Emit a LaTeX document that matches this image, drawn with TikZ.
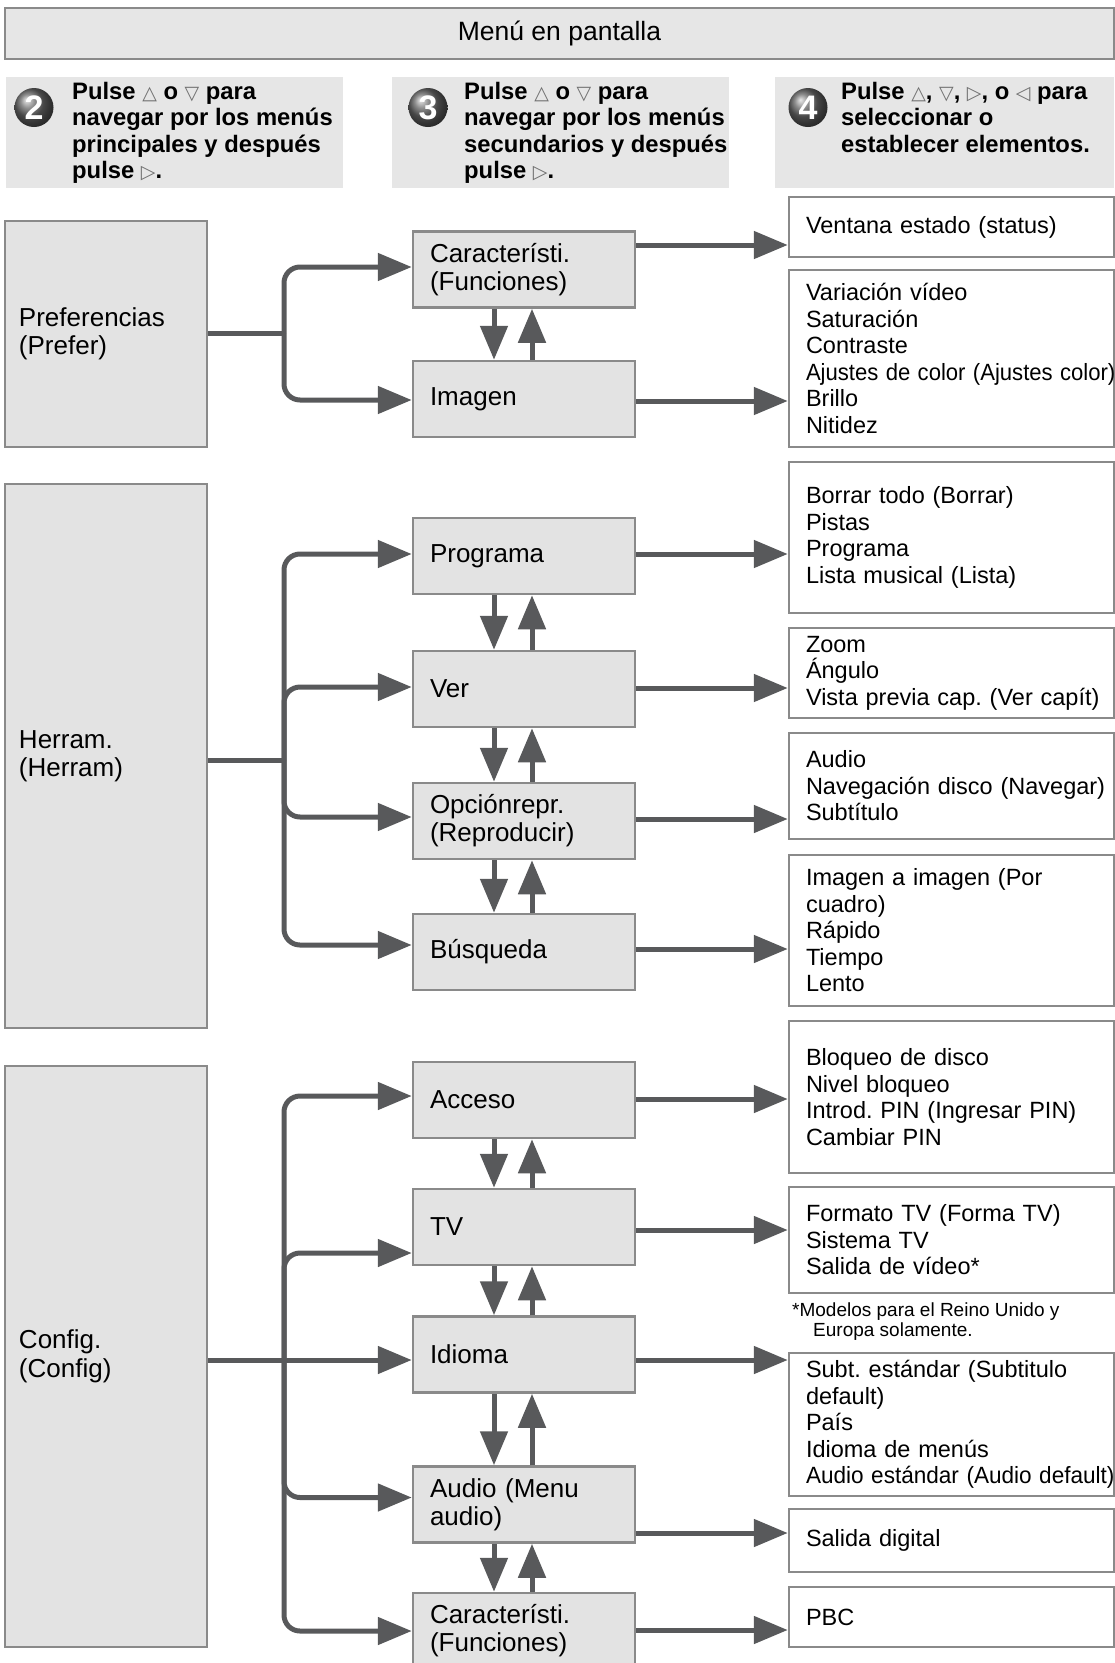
\documentclass[tikz,border=0pt]{standalone}
\usepackage{fontspec}
\setmainfont{Liberation Sans}
\newfontfamily\symf{DejaVu Sans}
\usetikzlibrary{arrows.meta,calc}
\frenchspacing
\definecolor{boxf}{HTML}{E3E3E3}
\definecolor{bordc}{HTML}{8A8A8A}
\definecolor{arrc}{HTML}{58595B}
\definecolor{hdrf}{HTML}{E6E6E6}
\definecolor{trig}{HTML}{707070}
\newcommand{\tU}{{\symf\mdseries\fontsize{19}{19}\selectfont\textcolor{trig}{△}}}
\newcommand{\tD}{{\symf\mdseries\fontsize{19}{19}\selectfont\textcolor{trig}{▽}}}
\newcommand{\tR}{{\symf\mdseries\fontsize{19}{19}\selectfont\textcolor{trig}{▷}}}
\newcommand{\tL}{{\symf\mdseries\fontsize{19}{19}\selectfont\textcolor{trig}{◁}}}
\tikzset{
  bx/.style={rectangle, draw=bordc, line width=2.5pt, inner ysep=0pt},
  leftbox/.style={bx, fill=boxf, minimum width=202pt, text width=174pt, inner xsep=14pt, align=left, font=\fontsize{26}{28.5}\selectfont},
  midbox/.style={bx, fill=boxf, minimum height=76pt, text width=188pt, inner xsep=17pt, align=left, font=\fontsize{26}{28}\selectfont},
  rbox/.style={bx, fill=white, text width=291pt, inner xsep=17pt, align=left, font=\fontsize{23.5}{26.5}\selectfont},
  hdrbox/.style={rectangle, fill=hdrf, minimum height=111pt, inner sep=0pt},
  hdrtext/.style={anchor=base west, align=left, inner sep=0pt, font=\bfseries\fontsize{23.8}{26.5}\selectfont},
  badge/.style={circle, minimum size=39pt, inner sep=0pt, shade, shading=ball, ball color=black!60, text=white, font=\bfseries\fontsize{34}{34}\selectfont},
  conn/.style={draw=arrc, line width=5pt},
  arr/.style={conn, -{Triangle[length=34pt,width=27pt]}},
  brn/.style={arr, rounded corners=16pt},
}
\begin{document}
\begin{tikzpicture}[x=1pt,y=-1pt]
\useasboundingbox (0,0) rectangle (1115,1663);
\clip (0,0) rectangle (1115,1663);

% title
\node[bx, fill=hdrf, minimum width=1109pt, minimum height=51pt, font=\fontsize{26.5}{28}\selectfont] (title) at (559.5,33.5) {Menú en pantalla};

% headers
\node[hdrbox, minimum width=337pt] (h2) at (174.5,132.5) {};
\node[hdrbox, minimum width=337pt] (h3) at (560.5,132.5) {};
\node[hdrbox, minimum width=339pt] (h4) at (944.5,132.5) {};
\node[badge] (c2) at (34,107.5) {2};
\node[badge] (c3) at (428,107.5) {3};
\node[badge] (c4) at (808,107.5) {4};
\node[hdrtext] (t2) at (72,178.5) {Pulse \tU\ o \tD\ para\\navegar por los menús\\principales y después\\pulse \tR.};
\node[hdrtext] (t3) at (464,178.5) {Pulse \tU\ o \tD\ para\\navegar por los menús\\secundarios y después\\pulse \tR.};
\node[hdrtext] (t4) at (841,152) {Pulse \tU, \tD, \tR, o \tL\ para\\seleccionar o\\establecer elementos.};

% left boxes
\node[leftbox, minimum height=226pt] (prefer) at (106,334) {Preferencias\\(Prefer)};
\node[leftbox, minimum height=544pt] (herram) at (106,756) {Herram.\\(Herram)};
\node[leftbox, minimum height=581pt] (config) at (106,1356.5) {Config.\\(Config)};

% middle boxes
\node[midbox] (car1) at (524,269.5) {Característi.\\(Funciones)};
\node[midbox] (imagen) at (524,399) {Imagen};
\node[midbox] (programa) at (524,556) {Programa};
\node[midbox] (ver) at (524,689) {Ver};
\node[midbox] (opcion) at (524,821) {Opciónrepr.\\(Reproducir)};
\node[midbox] (busqueda) at (524,952) {Búsqueda};
\node[midbox] (acceso) at (524,1100) {Acceso};
\node[midbox] (tv) at (524,1227) {TV};
\node[midbox] (idioma) at (524,1354.5) {Idioma};
\node[midbox] (audio) at (524,1504.5) {Audio (Menu\\audio)};
\node[midbox] (car2) at (524,1631) {Característi.\\(Funciones)};

% right boxes
\node[rbox, minimum height=60pt] (r1) at (951.5,227) {Ventana estado (status)};
\node[rbox, minimum height=177pt] (r2) at (951.5,358.5) {Variación vídeo\\Saturación\\Contraste\\\scalebox{0.94}[1]{Ajustes de color (Ajustes color)}\\Brillo\\Nitidez};
\node[rbox, minimum height=151pt] (r3) at (951.5,537.5) {Borrar todo (Borrar)\\Pistas\\Programa\\Lista musical (Lista)};
\node[rbox, minimum height=90pt] (r4) at (951.5,673) {Zoom\\Ángulo\\\mbox{Vista previa cap. (Ver capít)}};
\node[rbox, minimum height=106pt] (r5) at (951.5,786) {Audio\\\mbox{Navegación disco (Navegar)}\\Subtítulo};
\node[rbox, minimum height=151pt] (r6) at (951.5,930.5) {Imagen a imagen (Por\\cuadro)\\Rápido\\Tiempo\\Lento};
\node[rbox, minimum height=152pt] (r7) at (951.5,1097) {Bloqueo de disco\\Nivel bloqueo\\Introd. PIN (Ingresar PIN)\\Cambiar PIN};
\node[rbox, minimum height=106pt] (r8) at (951.5,1240) {Formato TV (Forma TV)\\Sistema TV\\Salida de vídeo*};
\node[anchor=base west, align=left, inner sep=0pt, font=\fontsize{19}{20}\selectfont] (fn) at (792,1336.5) {*Modelos para el Reino Unido y\\\hspace*{21pt}Europa solamente.};
\node[rbox, minimum height=143pt] (r9) at (951.5,1424.5) {Subt. estándar (Subtitulo\\default)\\País\\Idioma de menús\\\scalebox{0.96}[1]{Audio estándar (Audio default)}};
\node[rbox, minimum height=63pt] (r10) at (951.5,1540.5) {Salida digital};
\node[rbox, minimum height=60pt] (r11) at (951.5,1617) {PBC};

% trunk points
\coordinate (k1) at (284,333);
\coordinate (k2) at (284,760);
\coordinate (k3) at (284,1360);

% Preferencias group
\draw[conn] (prefer.east |- k1) -- (k1);
\draw[brn] (k1) |- ($(car1.west)+(0,-2.5)$);
\draw[brn] (k1) |- ($(imagen.west)+(0,1)$);

% Herram group
\draw[conn] (herram.east |- k2) -- (k2);
\draw[brn] (k2) |- ($(programa.west)+(0,-2)$);
\draw[brn] (k2) |- ($(ver.west)+(0,-2)$);
\draw[brn] (k2) |- ($(opcion.west)+(0,-4)$);
\draw[brn] (k2) |- ($(busqueda.west)+(0,-7)$);

% Config group
\draw[arr] (config.east |- k3) -- (idioma.west |- k3);
\draw[brn] (k3) |- ($(acceso.west)+(0,-4)$);
\draw[brn] (k3) |- ($(tv.west)+(0,26)$);
\draw[brn] (k3) |- ($(audio.west)+(0,-7)$);
\draw[brn] (k3) |- (car2.west);

% middle -> right
\draw[arr] (car1.east |- 0,245) -- (r1.west |- 0,245);
\draw[arr] (imagen.east |- 0,401) -- (r2.west |- 0,401);
\draw[arr] (programa.east |- 0,554) -- (r3.west |- 0,554);
\draw[arr] (ver.east |- 0,688) -- (r4.west |- 0,688);
\draw[arr] (opcion.east |- 0,819) -- (r5.west |- 0,819);
\draw[arr] (busqueda.east |- 0,949) -- (r6.west |- 0,949);
\draw[arr] (acceso.east |- 0,1099) -- (r7.west |- 0,1099);
\draw[arr] (tv.east |- 0,1230) -- (r8.west |- 0,1230);
\draw[arr] (idioma.east |- 0,1360) -- (r9.west |- 0,1360);
\draw[arr] (audio.east |- 0,1533) -- (r10.west |- 0,1533);
\draw[arr] (car2.east |- 0,1630) -- (r11.west |- 0,1630);

% vertical double arrows
\foreach \a/\b in {car1/imagen, programa/ver, ver/opcion, opcion/busqueda, acceso/tv, tv/idioma, idioma/audio, audio/car2}{
  \draw[arr] ($(\a.south)+(-30,0)$) -- ($(\b.north)+(-30,0)$);
  \draw[arr] ($(\b.north)+(8,0)$) -- ($(\a.south)+(8,0)$);
}
\end{tikzpicture}
\end{document}
